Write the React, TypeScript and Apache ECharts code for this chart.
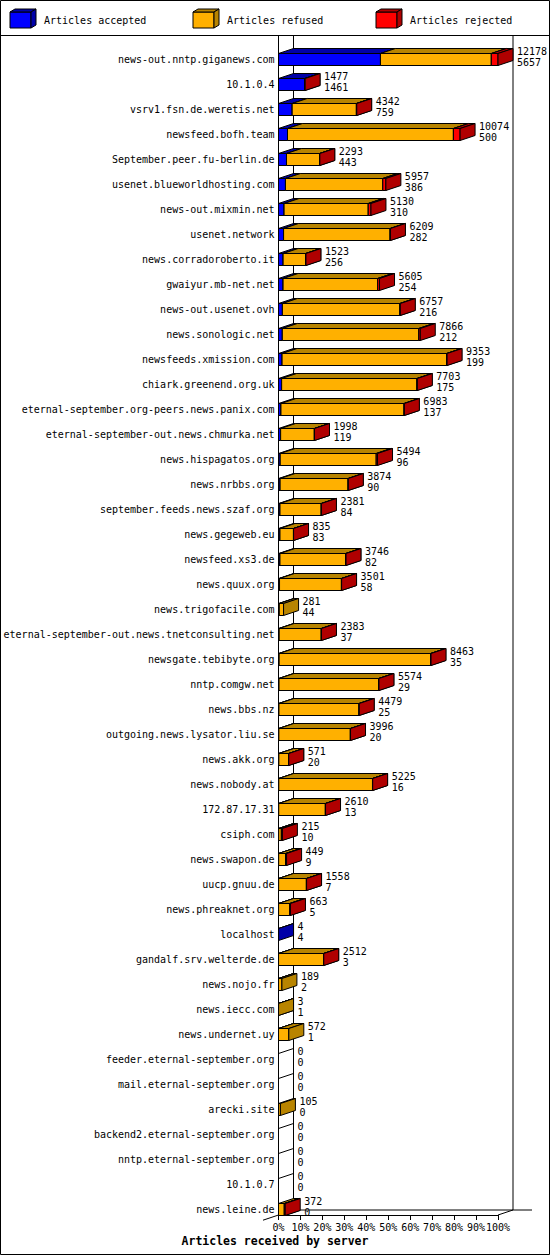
import { useEffect, useRef } from 'react';
import * as echarts from 'echarts';

const servers = [
  'news-out.nntp.giganews.com',
  '10.1.0.4',
  'vsrv1.fsn.de.weretis.net',
  'newsfeed.bofh.team',
  'September.peer.fu-berlin.de',
  'usenet.blueworldhosting.com',
  'news-out.mixmin.net',
  'usenet.network',
  'news.corradoroberto.it',
  'gwaiyur.mb-net.net',
  'news-out.usenet.ovh',
  'news.sonologic.net',
  'newsfeeds.xmission.com',
  'chiark.greenend.org.uk',
  'eternal-september.org-peers.news.panix.com',
  'eternal-september-out.news.chmurka.net',
  'news.hispagatos.org',
  'news.nrbbs.org',
  'september.feeds.news.szaf.org',
  'news.gegeweb.eu',
  'newsfeed.xs3.de',
  'news.quux.org',
  'news.trigofacile.com',
  'eternal-september-out.news.tnetconsulting.net',
  'newsgate.tebibyte.org',
  'nntp.comgw.net',
  'news.bbs.nz',
  'outgoing.news.lysator.liu.se',
  'news.akk.org',
  'news.nobody.at',
  '172.87.17.31',
  'csiph.com',
  'news.swapon.de',
  'uucp.gnuu.de',
  'news.phreaknet.org',
  'localhost',
  'gandalf.srv.welterde.de',
  'news.nojo.fr',
  'news.iecc.com',
  'news.undernet.uy',
  'feeder.eternal-september.org',
  'mail.eternal-september.org',
  'arecki.site',
  'backend2.eternal-september.org',
  'nntp.eternal-september.org',
  '10.1.0.7',
  'news.leine.de',
];

// top number: articles offered, bottom number: articles accepted
const offered = [
  12178, 1477, 4342, 10074, 2293, 5957, 5130, 6209, 1523, 5605, 6757, 7866, 9353, 7703, 6983, 1998,
  5494, 3874, 2381, 835, 3746, 3501, 281, 2383, 8463, 5574, 4479, 3996, 571, 5225, 2610, 215, 449,
  1558, 663, 4, 2512, 189, 3, 572, 0, 0, 105, 0, 0, 0, 372,
];
const accepted = [
  5657, 1461, 759, 500, 443, 386, 310, 282, 256, 254, 216, 212, 199, 175, 137, 119, 96, 90, 84, 83,
  82, 58, 44, 37, 35, 29, 25, 20, 20, 16, 13, 10, 9, 7, 5, 4, 3, 2, 1, 1, 0, 0, 0, 0, 0, 0, 0,
];
// rejected is read off the width of the red faces (estimate)
const rejected = [
  370, 16, 20, 370, 10, 170, 150, 15, 10, 100, 20, 80, 20, 20, 15, 10, 70, 10, 10, 5, 10, 10, 0, 10,
  20, 10, 10, 10, 5, 10, 10, 55, 60, 10, 40, 0, 10, 0, 0, 0, 0, 0, 0, 0, 0, 0, 50,
];
const refused = offered.map((o, i) => o - accepted[i] - rejected[i]);

const seriesNames = ['Articles accepted', 'Articles refused', 'Articles rejected'];
const FRONT = ['#0000ff', '#ffb000', '#ff0000'];
const DARK = ['#0000a8', '#b88400', '#b00000'];
const xTicks = [0, 10, 20, 30, 40, 50, 60, 70, 80, 90, 100];

const FONT = 'DejaVu Sans Mono';
const LEFT = 278.5;
const RIGHT = 498;
const TOP = 47;
const ROW_H = 25;
const DX = 15;
const DY = 5;
const BAR_H = 12;
const FLOOR = TOP + ROW_H * servers.length - 7;
const LEGEND_X = [10, 193, 376];

export default function App() {
  const ref = useRef<HTMLDivElement>(null);

  useEffect(() => {
    document.body.style.margin = '0';
    const chart = echarts.init(ref.current!, undefined, { renderer: 'svg' });
    const maxTotal = Math.max(...offered);
    const pct = (v: number) => (v / maxTotal) * 100;

    const data = servers.map((_, i) => [
      i,
      pct(accepted[i]),
      pct(refused[i]),
      pct(rejected[i]),
      offered[i],
      accepted[i],
    ]);

    const line = (x1: number, y1: number, x2: number, y2: number) => ({
      type: 'line',
      z: 0,
      shape: { x1, y1, x2, y2 },
      style: { stroke: '#000', lineWidth: 1 },
    });

    const legendItems = seriesNames.flatMap((name, i) => {
      const x = LEGEND_X[i];
      return [
        {
          type: 'rect',
          shape: { x, y: 12, width: 21, height: 16 },
          style: { fill: FRONT[i], stroke: '#000', lineWidth: 1 },
        },
        {
          type: 'polygon',
          shape: { points: [[x, 12], [x + 5, 9], [x + 26, 9], [x + 21, 12]] },
          style: { fill: DARK[i], stroke: '#000', lineWidth: 1 },
        },
        {
          type: 'polygon',
          shape: { points: [[x + 21, 12], [x + 26, 9], [x + 26, 25], [x + 21, 28]] },
          style: { fill: DARK[i], stroke: '#000', lineWidth: 1 },
        },
        {
          type: 'text',
          style: {
            text: name,
            x: x + 34,
            y: 20,
            fill: '#000',
            font: `10px "${FONT}"`,
            verticalAlign: 'middle',
          },
        },
      ];
    });

    chart.setOption({
      animation: false,
      backgroundColor: '#fff',
      title: {
        text: 'Articles received by server',
        left: 'center',
        top: 1235,
        padding: 0,
        textStyle: { fontFamily: FONT, fontWeight: 'bold', fontSize: 11.5, color: '#000' },
      },
      grid: { left: LEFT, top: TOP, width: RIGHT - LEFT, height: ROW_H * servers.length },
      xAxis: {
        type: 'value',
        min: 0,
        max: 100,
        interval: 10,
        offset: -7,
        axisLine: { show: true, lineStyle: { color: '#000', width: 1 } },
        axisTick: { show: true, length: 5, lineStyle: { color: '#000' } },
        splitLine: { show: false },
        axisLabel: {
          margin: 7,
          fontFamily: FONT,
          fontSize: 10,
          color: '#000',
          formatter: (v: number) => (xTicks.includes(v) ? `${v}%` : ''),
        },
      },
      yAxis: {
        type: 'category',
        inverse: true,
        data: servers,
        axisLine: { show: false },
        axisTick: { show: false },
        axisLabel: { margin: 4, fontFamily: FONT, fontSize: 10, color: '#000' },
      },
      graphic: [
        {
          type: 'rect',
          z: 10,
          shape: { x: 0.5, y: 0.5, width: 549, height: 1254 },
          style: { fill: 'none', stroke: '#000', lineWidth: 1 },
        },
        line(0, 35.5, 550, 35.5),
        line(LEFT, 35.5, LEFT, FLOOR),
        line(LEFT + DX, 35.5, LEFT + DX, FLOOR - DY),
        line(RIGHT + DX, 35.5, RIGHT + DX, FLOOR - DY),
        line(LEFT + DX, FLOOR - DY, 532, FLOOR - DY),
        line(263, FLOOR + 5.2, LEFT + DX, FLOOR - DY),
        line(RIGHT, FLOOR, RIGHT + DX, FLOOR - DY),
        ...legendItems,
      ],
      series: [
        {
          type: 'custom',
          name: 'Articles received by server',
          data,
          encode: { y: 0, x: 1 },
          clip: false,
          renderItem: (_params: any, api: any) => {
            const idx = api.value(0);
            const [x0, cy] = api.coord([0, idx]);
            const top = cy - BAR_H / 2;
            const children: any[] = [];
            let sum = 0;
            let xStart = x0;
            [1, 2, 3].forEach((dim, k) => {
              const v = api.value(dim);
              if (v <= 0) return;
              sum += v;
              const xEnd = api.coord([sum, idx])[0];
              children.push(
                {
                  type: 'rect',
                  shape: { x: xStart, y: top, width: xEnd - xStart, height: BAR_H },
                  style: { fill: FRONT[k], stroke: '#000', lineWidth: 1 },
                },
                {
                  type: 'polygon',
                  shape: {
                    points: [
                      [xStart, top],
                      [xStart + DX, top - DY],
                      [xEnd + DX, top - DY],
                      [xEnd, top],
                    ],
                  },
                  style: { fill: DARK[k], stroke: '#000', lineWidth: 1 },
                },
                {
                  type: 'polygon',
                  shape: {
                    points: [
                      [xEnd, top],
                      [xEnd + DX, top - DY],
                      [xEnd + DX, top + BAR_H - DY],
                      [xEnd, top + BAR_H],
                    ],
                  },
                  style: { fill: DARK[k], stroke: '#000', lineWidth: 1 },
                }
              );
              xStart = xEnd;
            });
            if (!children.length) {
              children.push({
                type: 'line',
                shape: { x1: x0, y1: top, x2: x0 + DX, y2: top - DY },
                style: { stroke: '#000', lineWidth: 1 },
              });
            }
            children.push({
              type: 'text',
              style: {
                text: `${api.value(4)}\n${api.value(5)}`,
                x: xStart + DX + 4,
                y: cy - 3,
                fill: '#000',
                font: `10px "${FONT}"`,
                lineHeight: 11,
                verticalAlign: 'middle',
              },
            });
            return { type: 'group', children };
          },
        },
      ],
    });

    return () => chart.dispose();
  }, []);

  return <div ref={ref} style={{ width: 550, height: 1255 }} />;
}
